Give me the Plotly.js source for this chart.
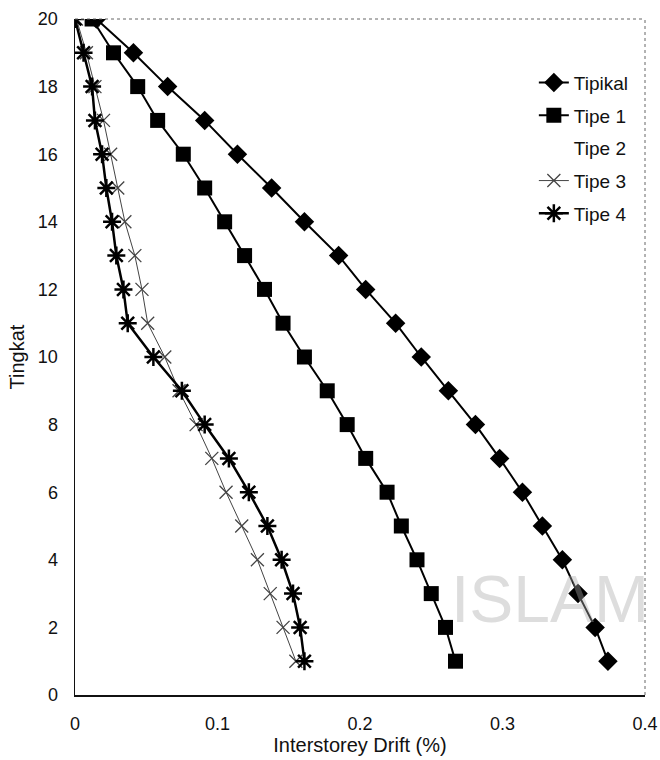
<!DOCTYPE html>
<html>
<head>
<meta charset="utf-8">
<script src="https://cdn.plot.ly/plotly-3.0.1.min.js"></script>
<style>html,body{margin:0;padding:0;background:#fff;}#chart{width:660px;height:760px;}</style>
</head>
<body>
<div id="chart"></div>
<script>
const levels = [1,2,3,4,5,6,7,8,9,10,11,12,13,14,15,16,17,18,19,20];
const tipikal = [0.374,0.365,0.353,0.342,0.328,0.314,0.298,0.281,0.262,0.243,0.225,0.204,0.185,0.161,0.138,0.114,0.091,0.065,0.041,0.015];
const tipe1 = [0.267,0.260,0.250,0.240,0.229,0.219,0.204,0.191,0.177,0.161,0.146,0.133,0.119,0.105,0.091,0.076,0.058,0.044,0.027,0.012];
const tipe2 = [null];
const tipe3 = [0.155,0.146,0.137,0.128,0.117,0.106,0.096,0.085,0.073,0.063,0.051,0.047,0.042,0.035,0.030,0.025,0.020,0.014,0.008,0.001];
const tipe4 = [0.161,0.158,0.153,0.145,0.135,0.122,0.108,0.091,0.075,0.055,0.037,0.034,0.029,0.026,0.022,0.019,0.014,0.012,0.006,0.000];
const xTicks = [0,0.1,0.2,0.3,0.4];
const xTickText = ['0','0.1','0.2','0.3','0.4'];
const yTicks = [0,2,4,6,8,10,12,14,16,18,20];

const FONT = 'Liberation Sans, Arial, sans-serif';
const traces = [
  {name:'Tipikal', x:tipikal, y:levels, mode:'lines+markers', legendgroup:'a',
   line:{color:'#000',width:2}, marker:{symbol:'diamond',size:15,color:'#000'}},
  {name:'Tipe 1', x:tipe1, y:levels, mode:'lines+markers', legendgroup:'b',
   line:{color:'#000',width:2}, marker:{symbol:'square',size:15,color:'#000'}},
  {name:'Tipe 2', x:tipe2, y:tipe2, mode:'lines', legendgroup:'c',
   line:{color:'rgba(255,255,255,0)',width:1}},
  {name:'Tipe 3', x:tipe3, y:levels, mode:'lines+markers', legendgroup:'d',
   line:{color:'#444',width:1}, marker:{symbol:'x-thin-open',size:13,line:{color:'#222',width:1.3}}},
  {name:'Tipe 4', x:tipe4, y:levels, mode:'lines+markers', legendgroup:'e',
   line:{color:'#000',width:2.5}, marker:{symbol:'asterisk-open',size:15,line:{color:'#000',width:2.5}}}
];

const layout = {
  width:660, height:760,
  margin:{l:75, r:15, t:19, b:65},
  paper_bgcolor:'#fff', plot_bgcolor:'#fff',
  font:{family:FONT, color:'#111', size:18},
  showlegend:true,
  legend:{x:0.805, xanchor:'left', y:0.934, yanchor:'top', bgcolor:'rgba(0,0,0,0)',
          font:{size:19, family:FONT, color:'#111'}, traceorder:'grouped', tracegroupgap:5},
  xaxis:{range:[0,0.4], tickvals:xTicks, ticktext:xTickText, showgrid:false, zeroline:false,
         showline:true, linecolor:'#111', linewidth:1.5, ticks:'', ticklabelstandoff:12,
         tickfont:{size:18, family:FONT},
         title:{text:'Interstorey Drift (%)', font:{size:20, family:FONT}, standoff:2}},
  yaxis:{range:[0,20], tickvals:yTicks, showgrid:false, zeroline:false,
         showline:true, linecolor:'#111', linewidth:1.5, ticks:'', ticklabelstandoff:12,
         tickfont:{size:18, family:FONT},
         title:{text:'Tingkat', font:{size:20, family:FONT}, standoff:8}},
  shapes:[
    {type:'line', xref:'paper', yref:'paper', x0:0, x1:1, y0:1, y1:1, line:{color:'#666',width:1,dash:'dot'}},
    {type:'line', xref:'paper', yref:'paper', x0:1, x1:1, y0:0, y1:1, line:{color:'#666',width:1,dash:'dot'}}
  ],
  annotations:[
    {text:'ISLAM', xref:'paper', yref:'paper', x:0.656, y:0.085, xanchor:'left', yanchor:'bottom',
     showarrow:false, font:{size:66, family:FONT, color:'rgba(170,170,170,0.4)'}}
  ]
};

Plotly.newPlot('chart', traces, layout, {displayModeBar:false, staticPlot:true});
</script>
</body>
</html>
